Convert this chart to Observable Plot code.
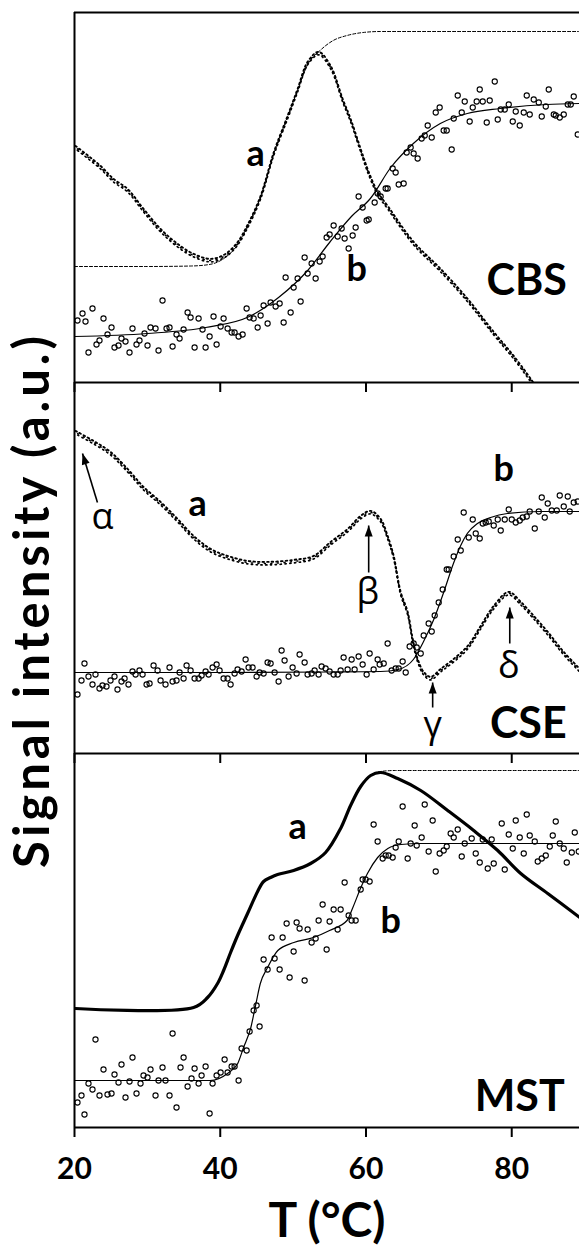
<!DOCTYPE html>
<html><head><meta charset="utf-8">
<script src="https://cdn.jsdelivr.net/npm/d3@7"></script>
<script src="https://cdn.jsdelivr.net/npm/@observablehq/plot@0.6"></script>
<style>
html,body{margin:0;padding:0;background:#fff;overflow:hidden;}
#wrap{position:relative;width:579px;height:1251px;overflow:hidden;background:#fff;}
#wrap svg{position:absolute;left:0;}
</style></head>
<body><div id="wrap"></div>
<script>
// ---------- data (T in °C, signal in a.u.) ----------
const xTicks = [20, 40, 60, 80];
const panelNames = ["CBS", "CSE", "MST"];
const yTitle = "Signal intensity (a.u.)";
const xTitle = "T (°C)";

// CBS
const cbsA = [[20.14,235],[23.57,215],[25.35,202],[27.28,192],[29.47,172],[31.81,152],[34.14,137],[36.34,127],[38.67,122],[40.5,126],[42.2,137],[43.75,156],[45.54,185],[47.32,228],[49.24,265],[50.62,292],[51.99,319],[53.5,329],[55.15,315],[56.8,282],[57.89,262],[59.27,232],[60.37,209],[61.6,189],[62.97,175],[66.54,139],[70.25,112],[73.96,82],[77.53,49],[80.27,25],[82.61,2],[84.67,-20]];
const cbsAFit = [[20,116],[30,116],[36,116.5],[38.5,118],[40.5,124],[42.2,136],[43.75,156],[45.5,185],[47.3,228],[49.2,265],[50.6,292],[52,318],[53.7,332],[55.5,342],[57.4,347],[59.6,350],[62,351],[89.3,351]];
const cbsB = [[20.41,62],[21.10,69],[21.51,61],[22.47,74],[21.92,30],[23.02,38],[23.43,42],[23.98,64],[24.53,48],[25.08,55],[25.49,35],[26.04,37],[26.45,44],[27.00,41],[27.55,30],[27.96,54],[28.51,38],[28.92,42],[29.61,49],[30.02,37],[30.43,55],[31.12,54],[31.53,32],[32.08,82],[32.63,54],[33.04,55],[33.46,36],[34.00,48],[34.42,44],[34.97,53],[35.52,70],[35.93,65],[36.48,35],[37.03,64],[37.57,53],[37.99,35],[38.54,46],[39.08,66],[39.50,38],[40.05,56],[40.46,64],[41.01,54],[41.56,50],[41.97,50],[42.52,46],[43.07,48],[43.62,74],[44.03,65],[44.58,64],[45.13,55],[45.54,67],[45.95,77],[46.50,59],[46.91,80],[47.60,76],[48.15,79],[48.70,60],[48.97,105],[49.66,70],[50.07,95],[50.62,104],[51.03,81],[51.58,125],[51.99,109],[52.54,119],[53.09,104],[53.64,121],[54.05,126],[54.60,145],[55.01,148],[55.56,157],[56.11,146],[56.66,154],[57.07,144],[57.62,134],[58.17,147],[58.58,155],[58.99,186],[59.54,175],[60.09,162],[60.37,163],[61.19,180],[61.60,189],[62.01,186],[62.70,194],[62.97,194],[63.66,214],[64.07,210],[64.49,198],[65.17,199],[65.58,230],[66.13,235],[66.54,229],[67.09,224],[67.64,244],[68.06,247],[68.47,257],[69.02,245],[69.57,270],[70.11,275],[70.66,252],[71.08,252],[71.76,233],[72.04,264],[72.59,287],[73.14,270],[73.55,281],[74.23,261],[74.65,275],[75.19,281],[75.61,293],[76.02,281],[76.57,260],[76.98,282],[77.67,301],[78.08,263],[78.49,273],[79.04,273],[79.59,278],[80.14,261],[80.55,271],[81.10,257],[81.65,270],[82.06,287],[82.47,268],[83.02,283],[83.71,280],[84.12,266],[84.67,276],[85.08,293],[85.77,268],[86.04,267],[86.59,265],[87.14,268],[87.69,278],[88.10,278],[88.51,286],[89.06,248]];
const cbsBFit = [[20,46],[30,49],[38,55],[44,66],[48,85],[52,112],[55,140],[58,166],[60.6,184],[63.4,215],[66.5,239],[70.2,259],[73.9,269],[78.4,274],[84.8,278],[89.3,279]];

// CSE
const cseA = [[20.14,321],[22.61,311],[24.94,300],[27.28,283],[29.47,265],[31.81,250],[34.14,233],[36.34,216],[38.67,203],[41.01,196],[43.75,191],[46.5,190],[50.07,192],[52.82,196],[55.15,210],[57.49,223],[59.27,236],[60.64,241],[62.01,233],[62.97,216],[63.8,196],[64.76,160],[65.72,140],[66.41,113],[67.09,93],[67.92,80],[68.88,75],[70.25,83],[72.04,93],[73.96,106],[75.74,126],[77.53,146],[79.59,160],[81.24,150],[83.02,136],[84.94,120],[87.14,100],[89.34,83]];
const cseB = [[20.41,59],[20.96,73],[21.37,90],[21.92,77],[22.47,69],[22.88,79],[23.43,65],[23.84,68],[24.39,67],[24.94,73],[25.49,77],[25.90,64],[26.45,72],[26.87,75],[27.41,69],[27.96,82],[28.38,79],[28.92,83],[29.34,79],[29.89,69],[30.30,70],[30.85,88],[31.40,83],[31.81,73],[32.49,69],[33.04,86],[33.46,72],[34.00,73],[34.42,81],[34.97,75],[35.38,88],[35.93,83],[36.48,75],[37.03,75],[37.44,78],[37.99,82],[38.40,79],[38.95,86],[39.50,89],[39.91,83],[40.46,75],[41.01,75],[41.42,69],[41.97,80],[42.38,84],[42.93,82],[43.48,94],[43.89,86],[44.44,86],[44.99,77],[45.40,81],[45.95,80],[46.50,91],[46.91,90],[47.46,81],[48.01,72],[48.42,103],[48.83,93],[49.38,77],[49.93,86],[50.48,80],[50.89,99],[51.58,91],[51.99,79],[52.54,80],[52.95,83],[53.50,79],[53.91,87],[54.46,85],[55.01,82],[55.56,79],[56.11,79],[56.52,83],[56.93,96],[57.48,84],[58.03,94],[58.44,84],[58.99,97],[59.54,89],[60.09,79],[60.50,100],[61.05,84],[61.60,94],[61.88,89],[62.43,90],[62.97,110],[63.52,83],[64.07,85],[64.49,85],[65.03,92],[65.45,81],[65.99,107],[66.54,110],[66.96,106],[67.51,100],[67.92,118],[68.60,130],[69.02,122],[69.43,138],[69.98,151],[70.53,164],[71.08,184],[71.35,184],[72.04,197],[72.59,214],[73.00,203],[73.41,241],[74.10,216],[74.65,234],[75.06,220],[75.61,215],[76.02,230],[76.43,231],[76.84,232],[77.53,228],[78.08,234],[78.49,223],[79.04,234],[79.59,244],[80.00,234],[80.55,231],[81.10,233],[81.51,236],[82.06,237],[82.47,242],[83.16,225],[83.71,242],[84.12,256],[84.53,236],[84.94,250],[85.49,243],[86.18,243],[86.59,258],[87.14,247],[87.69,257],[87.96,242],[88.51,251],[89.06,252]];
const cseBFit = [[20,81],[40,81],[55,81.5],[62,82],[64.4,84],[66.5,94],[67.9,112],[69.3,134],[70.7,162],[72,190],[73,208],[73.9,220],[75.3,230],[77.1,236],[79.4,240],[84,242],[89.3,242]];
const cseMarks = [
  {label: "α", T: 23.84, v: 225, tailT: 23.15, tailV: 251, tipT: 21.1, tipV: 300},
  {label: "β", T: 60.23, v: 150, tailT: 60.37, tailV: 181, tipT: 60.37, tipV: 228},
  {label: "γ", T: 69.15, v: 17, tailT: 69.15, tailV: 46, tipT: 69.15, tipV: 71},
  {label: "δ", T: 79.59, v: 76, tailT: 79.73, tailV: 110, tipT: 79.73, tipV: 146}
];

// MST
const mstA = [[20.14,119],[36.34,120],[38.26,130],[39.63,144],[40.46,157],[41.42,175],[42.38,192],[43.75,214],[45.13,236],[45.95,246],[46.91,250],[47.87,253],[50.07,257],[52.4,264],[54.46,275],[56.52,299],[57.89,322],[59.27,341],[60.64,352],[62.01,355],[64.35,349],[67.51,337],[71.21,317],[74.78,297],[78.08,277],[81.24,254],[84.94,234],[89.34,210]];
const mstAFit = [[56.5,299],[57.9,322],[59.3,341],[60.6,352],[62,356],[64,357],[89.3,357]];
const mstB = [[20.41,25],[20.96,32],[21.37,13],[21.92,44],[22.47,38],[22.88,88],[23.43,32],[23.98,58],[24.53,33],[25.08,34],[25.49,53],[26.04,45],[26.45,63],[27.00,30],[27.55,46],[27.96,70],[28.51,34],[29.06,44],[29.47,52],[30.02,50],[30.43,58],[31.12,32],[31.53,47],[32.08,60],[32.49,47],[33.04,32],[33.46,94],[34.00,20],[34.55,60],[34.97,70],[35.52,41],[36.06,49],[36.48,59],[37.03,44],[37.44,52],[37.99,61],[38.54,14],[38.95,44],[39.50,52],[40.05,55],[40.60,68],[41.01,55],[41.56,61],[41.97,61],[42.52,47],[42.93,79],[43.62,77],[44.03,96],[44.58,117],[44.99,122],[45.40,101],[45.95,168],[46.50,158],[47.05,190],[47.46,169],[48.15,158],[48.56,190],[49.11,204],[49.52,150],[50.07,176],[50.48,205],[50.89,199],[51.58,147],[51.99,198],[52.54,185],[53.09,189],[53.50,207],[54.05,223],[54.60,178],[55.01,206],[55.56,218],[56.11,198],[56.52,218],[57.07,245],[57.62,212],[58.03,207],[58.58,207],[59.27,238],[59.54,248],[59.95,248],[60.50,246],[61.05,303],[61.60,286],[62.29,269],[62.70,272],[63.11,272],[63.66,270],[64.07,280],[64.49,286],[65.03,321],[65.72,269],[66.13,284],[66.68,302],[66.96,282],[67.64,290],[68.06,323],[68.60,276],[69.15,307],[69.57,256],[70.11,274],[70.66,277],[71.08,281],[71.62,294],[72.04,290],[72.59,298],[73.14,271],[73.55,284],[74.51,289],[75.06,274],[75.61,265],[76.02,288],[76.71,259],[77.25,288],[77.53,264],[78.63,304],[79.04,258],[79.59,293],[80.14,279],[80.55,307],[81.10,290],[81.65,274],[82.06,313],[82.47,292],[83.16,286],[83.57,266],[84.12,269],[84.67,272],[85.22,281],[85.63,292],[86.04,306],[86.59,284],[87.14,279],[87.55,265],[88.24,275],[88.65,295],[89.20,276]];
const mstBFit = [[20,47],[38.6,47],[41,54],[42.4,64],[43.2,80],[44.2,100],[44.9,124],[45.5,144],[46.5,160],[47.9,177],[50.1,185],[52.8,190],[55,197],[57.4,207],[58.2,220],[59.3,240],[60.2,254],[61.6,270],[63,279],[64.8,283],[67.5,284],[89.3,284]];

// ---------- drawing ----------
const FONT = 'Lato,"Open Sans","DejaVu Sans",sans-serif';
const GREEK = '"Open Sans","DejaVu Sans",sans-serif';
const X = d => d[0], Y = d => d[1];
const arrowHead = {draw(ctx) { ctx.moveTo(0, 0); ctx.lineTo(-4, 11); ctx.lineTo(4, 11); ctx.closePath(); }};

function dotBand(data) {
  return [
    Plot.line(data, {x: X, y: Y, curve: "catmull-rom", stroke: "#000", strokeWidth: 1.9, strokeDasharray: "1.6 3.0", dy: -1.6, clip: true}),
    Plot.line(data, {x: X, y: Y, curve: "catmull-rom", stroke: "#000", strokeWidth: 1.7, strokeDasharray: "1.2 3.6", strokeDashoffset: 2.2, dy: 1.4, clip: true}),
    Plot.line(data, {x: X, y: Y, curve: "catmull-rom", stroke: "#000", strokeWidth: 1.5, strokeDasharray: "1 5.5", strokeDashoffset: 4, dy: 0, clip: true})
  ];
}
function fitLine(data, dashed) {
  return Plot.line(data, {x: X, y: Y, curve: "monotone-x", stroke: "#000", strokeWidth: dashed ? 1 : 1.2, strokeDasharray: dashed ? "3 2" : null, clip: true});
}
function circles(data) {
  return Plot.dot(data, {x: X, y: Y, r: 2.6, stroke: "#000", strokeWidth: 1.1, fill: "none"});
}
function label(t, T, v, size) {
  return Plot.text([t], {x: () => T, y: () => v, text: d => d, fontSize: size, fontWeight: "bold", fontFamily: FONT, textAnchor: "middle", lineAnchor: "bottom"});
}

function panel({top, mt, h, mb, ymax, last, marks}) {
  const svg = Plot.plot({
    width: 579, height: mt + h + mb,
    marginLeft: 74, marginRight: 0, marginTop: mt, marginBottom: mb,
    x: {domain: [20, 89.3]},
    y: {domain: [0, ymax], axis: null},
    style: {background: "transparent", overflow: "visible", fontFamily: FONT, color: "#000"},
    marks: [
      ...marks,
      Plot.ruleX([20], {stroke: "#000", strokeWidth: 2}),
      Plot.ruleY([0], {stroke: "#000", strokeWidth: 2}),
      Plot.axisX({ticks: xTicks, tickSize: 10, strokeWidth: 2, tickPadding: 20, fontSize: 30, fontWeight: "bold",
                  tickFormat: last ? d => String(d) : () => "", label: null})
    ]
  });
  svg.style.top = top + "px";
  document.getElementById("wrap").appendChild(svg);
  return svg;
}

// top: CBS
panel({top: 0, mt: 12, h: 370, mb: 12, ymax: 370, marks: [
  Plot.ruleY([370], {stroke: "#000", strokeWidth: 2}),
  fitLine(cbsAFit, true),
  fitLine(cbsBFit, false),
  ...dotBand(cbsA),
  circles(cbsB),
  label("a", 44.85, 217, 36),
  label("b", 58.72, 102, 36),
  label(panelNames[0], 82.06, 88, 43)
]});

// middle: CSE
const mid = panel({top: 372, mt: 10, h: 371, mb: 12, ymax: 371, marks: [
  fitLine(cseBFit, false),
  ...dotBand(cseA),
  circles(cseB),
  label("a", 36.89, 238, 36),
  label("b", 78.9, 273, 36),
  label(panelNames[1], 82.27, 16, 43),
  Plot.link(cseMarks, {x1: "tailT", y1: "tailV", x2: "tipT", y2: "tipV", stroke: "#000", strokeWidth: 1.6}),
  Plot.dot(cseMarks, {x: "tipT", y: "tipV", symbol: arrowHead, r: 4, fill: "#000", stroke: null,
    rotate: d => (d.label === "α" ? -17 : 0)}),
  Plot.text(cseMarks, {x: "T", y: "v", text: "label", fontSize: 36, fontFamily: GREEK, textAnchor: "middle", lineAnchor: "bottom"}),
  Plot.text([yTitle], {text: d => d, frameAnchor: "left", rotate: -90, dx: -26, dy: 32,
    fontSize: 49, fontWeight: "bold", textAnchor: "middle", lineAnchor: "bottom"})
]});
d3.select(mid).selectAll("text").filter(function() { return this.textContent === yTitle; })
  .style("letter-spacing", "4px");

// bottom: MST
panel({top: 743, mt: 10, h: 374, mb: 124, ymax: 374, last: true, marks: [
  fitLine(mstAFit, true),
  Plot.line(mstA, {x: X, y: Y, curve: "catmull-rom", stroke: "#000", strokeWidth: 3.2, clip: true}),
  fitLine(mstBFit, false),
  circles(mstB),
  label("a", 50.62, 289, 36),
  label("b", 63.39, 195, 36),
  label(panelNames[2], 81.1, 17, 43),
  Plot.text([xTitle], {text: d => d, frameAnchor: "bottom", dy: 109, fontSize: 48, fontWeight: "bold", lineAnchor: "bottom"})
]});
</script>
</body></html>
